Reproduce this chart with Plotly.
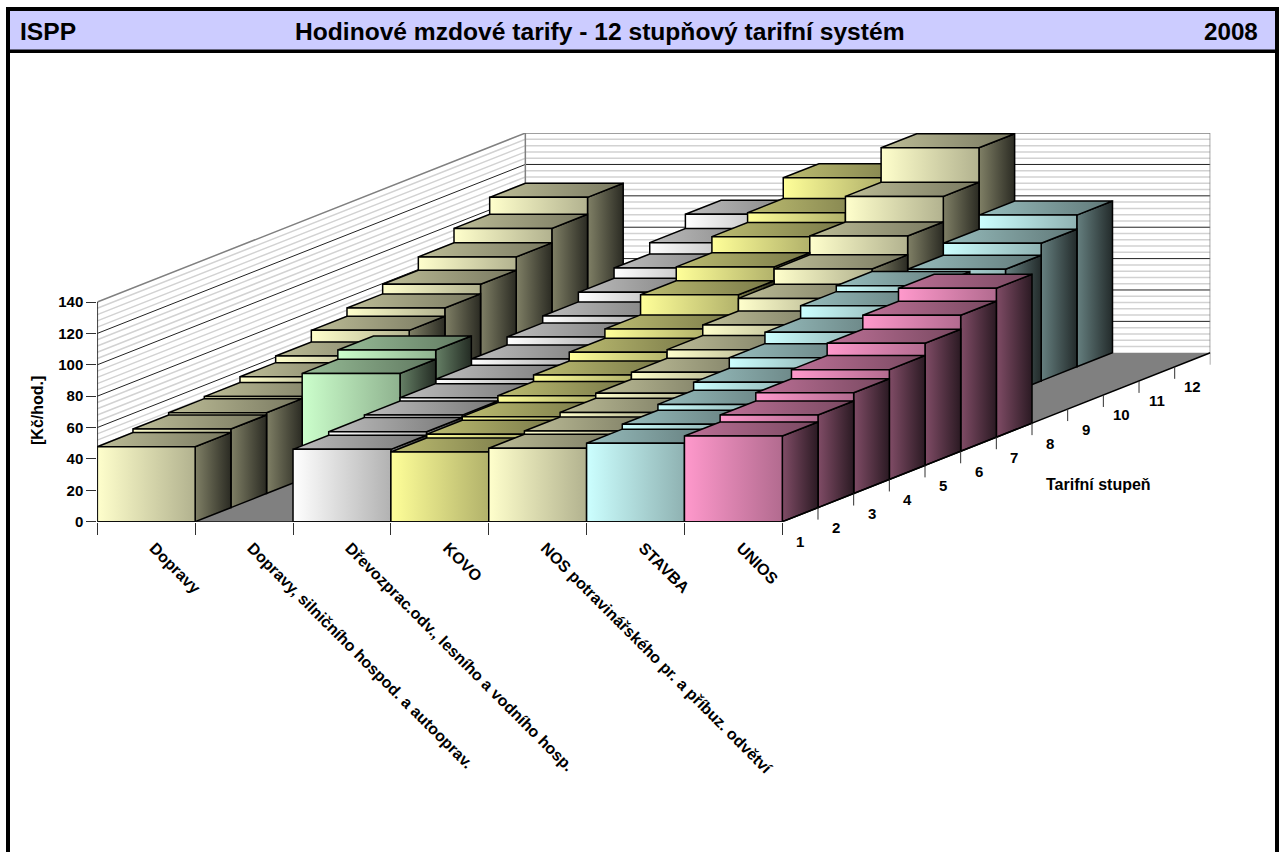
import plotly.graph_objects as go

CATEGORIES = ["Dopravy", "Dopravy, silničního hospod. a autooprav.",
              "Dřevozprac.odv., lesního a vodního hosp.", "KOVO",
              "NOS potravinářského pr. a příbuz. odvětví", "STAVBA", "UNIOS"]
LEVELS = list(range(1, 13))
DOPRAVY = [47.8, 50.1, 51.5, 52.8, 56.5, 60.7, 68.1, 73.4, 79.5, 88.0, 97.2, 108.0]
SILNICNI = [None, None, None, 67.6, 73.5, None, None, None, None, None, None, None]
DREVO = [46.1, 48.4, 50.0, 52.1, 54.9, 58.8, 63.9, 68.3, 74.4, 80.9, 88.1, 97.2]
KOVO = [44.4, 46.7, 49.0, 53.4, 57.6, 63.1, 69.0, 81.8, 90.6, 100.9, 107.2, 120.5]
NOS = [46.8, 48.8, 51.7, 54.9, 59.3, 64.8, 71.5, 79.5, 89.3, 101.3, 117.6, 139.6]
STAVBA = [50.0, 53.1, 56.8, 61.9, 68.6, 75.8, 83.8, 87.6, 76.0, 80.1, 87.7, 96.7]
UNIOS = [54.6, 59.0, 64.2, 70.0, 77.8, 86.7, 94.9, None, None, None, None, None]
SERIES = [DOPRAVY, SILNICNI, DREVO, KOVO, NOS, STAVBA, UNIOS]
BASE_COLORS = [(255, 255, 204), (204, 255, 204), (255, 255, 255), (255, 255, 153),
               (255, 255, 204), (204, 255, 255), (255, 153, 204)]
Y_TICKS = [0, 20, 40, 60, 80, 100, 120, 140]
Y_MINOR = [v for v in range(4, 140, 4) if v % 20]

W, H = 1281, 852
LEFT, RIGHT, BOTTOM, TOP = 97.3, 1210.3, 521.7, 133.0
CAT_PX, STEP_X, STEP_Y, VAL_PX = 97.86, 35.67, 14.08, 1.569
DX = STEP_X / CAT_PX      # x-axis units per depth step
DV = STEP_Y / VAL_PX      # y-axis units per depth step
N_C, N_D = len(CATEGORIES), len(LEVELS)


def proj(c, d, v):
    return c + d * DX, v + d * DV


def shade(rgb, f):
    return "rgb(%d,%d,%d)" % tuple(round(ch * f) for ch in rgb)


fig = go.Figure()


def line(pts, color, width):
    xs, ys = [], []
    for seg in pts:
        for c, d, v in seg:
            x, y = proj(c, d, v)
            xs.append(x)
            ys.append(y)
        xs.append(None)
        ys.append(None)
    fig.add_trace(go.Scatter(x=xs, y=ys, mode="lines", cliponaxis=False,
                             line=dict(color=color, width=width), hoverinfo="skip", showlegend=False))


def poly(corners, c0, c1=None, lw=1.5, lc="#000000"):
    xs, ys = zip(*[proj(*p) for p in corners + corners[:1]])
    kw = dict(fillcolor=c0) if c1 is None else dict(
        fillgradient=dict(type="horizontal", colorscale=[[0, c0], [1, c1]]))
    fig.add_trace(go.Scatter(x=xs, y=ys, mode="lines", fill="toself", cliponaxis=False,
                             line=dict(color=lc, width=lw), hoverinfo="skip", showlegend=False, **kw))


# walls and floor
poly([(0, 0, 0), (0, N_D, 0), (0, N_D, 140), (0, 0, 140)], "#ffffff", lw=0)
poly([(0, N_D, 0), (N_C, N_D, 0), (N_C, N_D, 140), (0, N_D, 140)], "#ffffff", lw=0)
line([[(0, 0, v), (0, N_D, v), (N_C, N_D, v)] for v in Y_MINOR], "#d2d2d2", 1.5)
line([[(0, 0, v), (0, N_D, v), (N_C, N_D, v)] for v in Y_TICKS[1:-1]], "#222222", 1)
line([[(0, 0, 140), (0, N_D, 140), (N_C, N_D, 140), (N_C, N_D, 0)], [(0, N_D, 0), (0, N_D, 140)]], "#808080", 1.5)
poly([(0, 0, 0), (N_C, 0, 0), (N_C, N_D, 0), (0, N_D, 0)], "#808080", lw=0)

# bars, back to front
for d in range(N_D - 1, -1, -1):
    for c in range(N_C):
        v = SERIES[c][d]
        if v is None:
            continue
        rgb = BASE_COLORS[c]
        poly([(c + 1, d, 0), (c + 1, d + 1, 0), (c + 1, d + 1, v), (c + 1, d, v)], shade(rgb, 0.50), shade(rgb, 0.17))
        poly([(c, d, v), (c + 1, d, v), (c + 1, d + 1, v), (c, d + 1, v)], shade(rgb, 0.74), shade(rgb, 0.47))
        poly([(c, d, 0), (c + 1, d, 0), (c + 1, d, v), (c, d, v)], shade(rgb, 1.0), shade(rgb, 0.70))

# axis edges and depth ticks
line([[(0, 0, 0), (0, 0, 140)], [(0, 0, 0), (N_C, 0, 0), (N_C, N_D, 0)]], "#000000", 1.5)
line([[(N_C, d, 0), (N_C, d, -12 / VAL_PX)] for d in range(N_D + 1)], "#303030", 1)

ann = []
for i, lv in enumerate(LEVELS):
    x, y = proj(N_C, i + 0.5, 0)
    ann.append(dict(x=x, y=y, xref="x", yref="y", yshift=-27, text=f"<b>{lv}</b>", showarrow=False,
                    font=dict(family="Liberation Sans, Arial", size=15, color="#000000")))


def paper(text, px, py, size, anchor="center", angle=0):
    ann.append(dict(x=px / W, y=1 - py / H, xref="paper", yref="paper", text=f"<b>{text}</b>", showarrow=False,
                    xanchor=anchor, yanchor="middle", textangle=angle,
                    font=dict(family="Liberation Sans, Arial", size=size, color="#000000")))


paper("Tarifní stupeň", 1098, 484, 16)
paper("[Kč/hod.]", 37, 411, 16, angle=-90)
paper("ISPP", 18, 31, 24.6, "left")
paper("Hodinové mzdové tarify - 12 stupňový tarifní systém", 600, 31, 24.6)
paper("2008", 1260, 31, 24.2, "right")


def rect(x0, y0, x1, y1, color):
    return dict(type="rect", xref="paper", yref="paper", x0=x0 / W, x1=x1 / W, y0=1 - y0 / H, y1=1 - y1 / H,
                fillcolor=color, line=dict(width=0), layer="below")


shapes = [rect(6, 7, 1279, 53, "#000000"), rect(10, 11, 1275, 49.5, "#CCCCFF"),
          rect(6, 7, 10, 852, "#000000"), rect(1275, 7, 1279, 852, "#000000")]

fig.update_layout(
    width=W, height=H, margin=dict(l=0, r=0, t=0, b=0, autoexpand=False), paper_bgcolor="#ffffff",
    plot_bgcolor="rgba(0,0,0,0)", showlegend=False, annotations=ann, shapes=shapes,
    xaxis=dict(domain=[LEFT / W, RIGHT / W], range=[0, (RIGHT - LEFT) / CAT_PX], showgrid=False, zeroline=False,
               automargin=False, showline=False, tickmode="array", tickvals=[i + 0.58 for i in range(N_C)],
               ticktext=[f"<b>{c}</b>" for c in CATEGORIES], ticks="", tickangle=45, ticklabelstandoff=13,
               tickfont=dict(family="Liberation Sans, Arial", size=16, color="#000000"),
               minor=dict(tickmode="array", tickvals=list(range(N_C + 1)), ticks="outside",
                          ticklen=12, tickcolor="#303030", tickwidth=1, showgrid=False)),
    yaxis=dict(domain=[1 - BOTTOM / H, 1 - TOP / H], range=[0, (BOTTOM - TOP) / VAL_PX], showgrid=False,
               zeroline=False, automargin=False, showline=False, tickmode="array", tickvals=Y_TICKS,
               ticktext=[f"<b>{v}</b>" for v in Y_TICKS], ticks="outside", ticklen=10, tickcolor="#303030",
               tickwidth=1, tickfont=dict(family="Liberation Sans, Arial", size=15, color="#000000")),
)

fig.write_html("out.html", config=dict(displayModeBar=False),
               post_script="document.body.style.margin='0';document.body.style.overflow='hidden';")
